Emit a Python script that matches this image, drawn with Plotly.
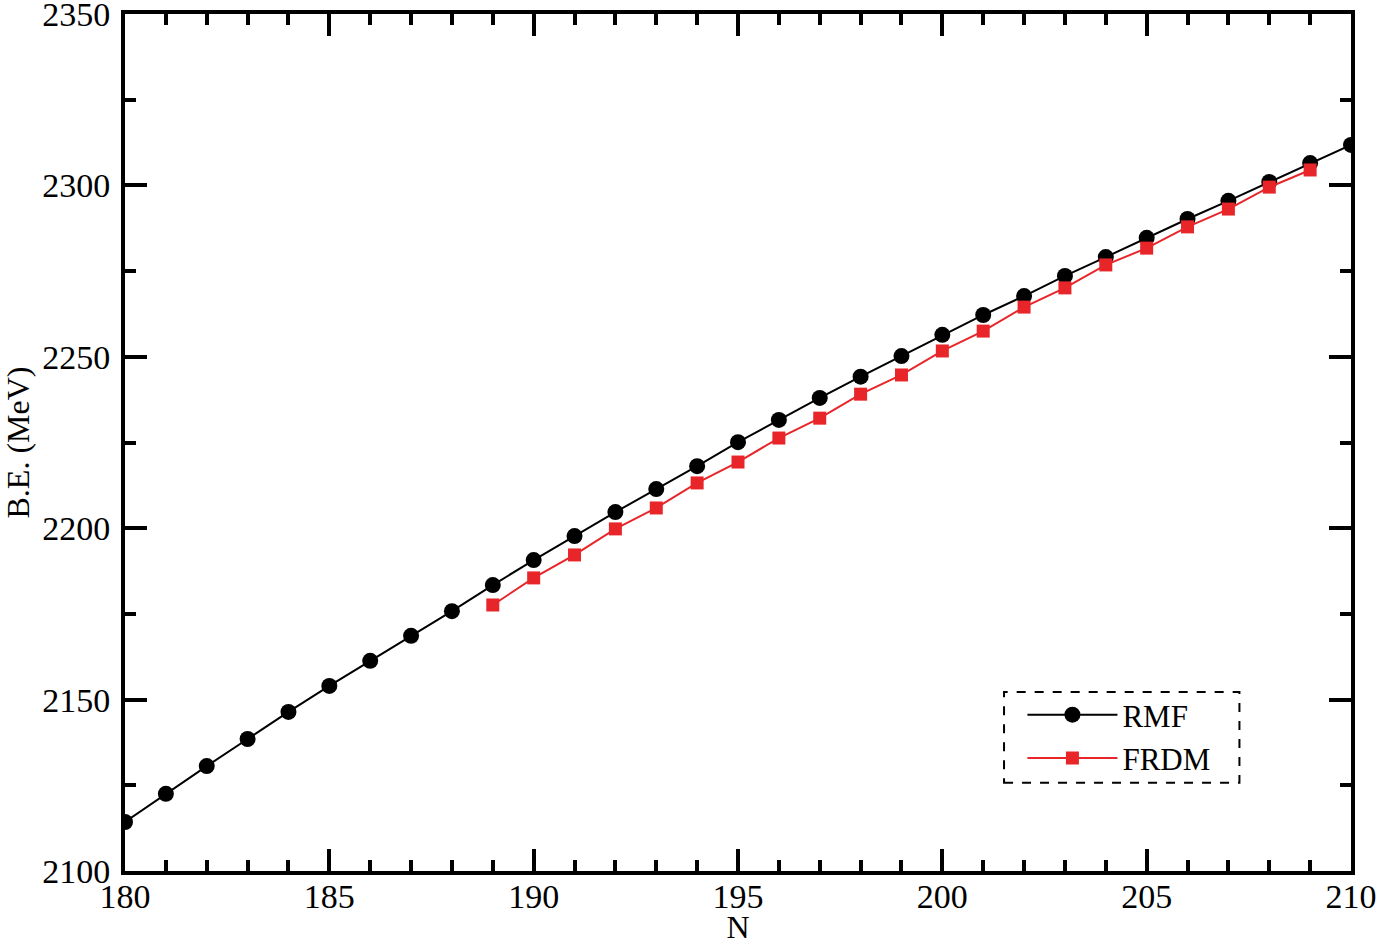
import plotly.graph_objects as go

# neutron number
n_rmf = list(range(180, 211))
be_rmf = [2114.3, 2122.5, 2130.6, 2138.5, 2146.4, 2154.0, 2161.3, 2168.6, 2175.8, 2183.4,
          2190.7, 2197.7, 2204.7, 2211.4, 2218.1, 2225.1, 2231.6, 2238.0, 2244.2, 2250.2,
          2256.4, 2262.2, 2267.7, 2273.6, 2279.1, 2284.7, 2290.2, 2295.5, 2301.0, 2306.5,
          2311.8]

n_frdm = list(range(189, 210))
be_frdm = [2177.6, 2185.5, 2192.2, 2199.8, 2205.9, 2213.2, 2219.3, 2226.3, 2232.1, 2239.1,
           2244.7, 2251.7, 2257.5, 2264.5, 2270.1, 2276.8, 2281.7, 2287.9, 2293.1, 2299.5,
           2304.5]

font = 'Liberation Serif, Times New Roman, serif'
red = '#e8262a'

fig = go.Figure()
fig.add_trace(go.Scatter(x=n_rmf, y=be_rmf, mode='lines+markers', name='RMF',
                         line=dict(color='black', width=2),
                         marker=dict(symbol='circle', size=16, color='black')))
fig.add_trace(go.Scatter(x=n_frdm, y=be_frdm, mode='lines+markers', name='FRDM',
                         line=dict(color=red, width=2),
                         marker=dict(symbol='square', size=13, color=red)))

axis_common = dict(showgrid=False, zeroline=False, showline=True, linecolor='black',
                   linewidth=4, mirror='ticks', ticks='inside', tickwidth=4,
                   ticklen=22, tickcolor='black', automargin=False,
                   ticklabeloverflow='allow',
                   tickfont=dict(family=font, size=34, color='black'))

fig.update_xaxes(range=[180, 210], dtick=5, tick0=180,
                 title=dict(text='N', font=dict(family=font, size=32, color='black'), standoff=19),
                 minor=dict(dtick=1, ticks='inside', ticklen=11, tickwidth=4, tickcolor='black'),
                 ticklabelstandoff=-8,
                 **axis_common)
fig.update_yaxes(range=[2100, 2350], dtick=50, tick0=2100,
                 title=dict(text='B.E. (MeV)', font=dict(family=font, size=32, color='black'), standoff=10),
                 minor=dict(dtick=25, ticks='inside', ticklen=11, tickwidth=4, tickcolor='black'),
                 ticklabelstandoff=4,
                 **axis_common)

# dashed legend frame
fig.add_shape(type='rect', xref='paper', yref='paper',
              x0=0.717, x1=0.909, y0=0.103, y1=0.209,
              line=dict(color='black', width=2, dash='dash'))

fig.update_layout(
    width=1378, height=945,
    margin=dict(l=125, r=27, t=14, b=74),
    plot_bgcolor='white', paper_bgcolor='white',
    font=dict(family=font, color='black'),
    showlegend=True,
    legend=dict(x=0.732, y=0.2135, xanchor='left', yanchor='top',
                bgcolor='rgba(0,0,0,0)', borderwidth=0,
                font=dict(family=font, size=31, color='black'),
                itemwidth=90, tracegroupgap=0),
)

# page without body margin so the figure fills the window
fig.write_html("out.html", config={'displayModeBar': False},
               post_script="document.body.style.margin='0';")
